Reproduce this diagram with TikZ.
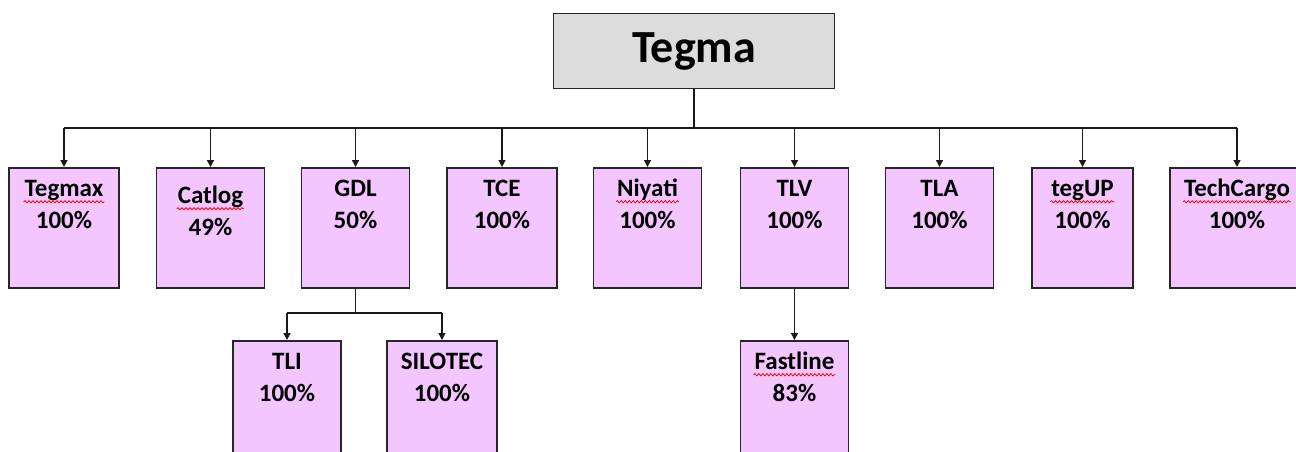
\documentclass[tikz,border=0pt]{standalone}
\usepackage{fontspec}
\setmainfont{Carlito}
\usetikzlibrary{arrows.meta, positioning, decorations.pathmorphing}
\definecolor{unitpink}{HTML}{F3C6FF}
\definecolor{headgrey}{HTML}{DCDCDC}
\newsavebox{\spellbox}
\newcommand{\spell}[1]{\sbox{\spellbox}{#1}\rlap{\tikz[overlay]\draw[red, line width=0.8pt, decorate, decoration={snake, segment length=4pt, amplitude=1.1pt}] (-1pt,-5pt) -- (\wd\spellbox+1pt,-5pt);}\usebox{\spellbox}}
\tikzset{head/.style={draw=black!85, line width=1.5pt, fill=headgrey, minimum width=281pt, minimum height=75pt, font=\bfseries\fontsize{46}{50}\selectfont}}
\tikzset{unit/.style={draw=black!85, line width=1.5pt, fill=unitpink, anchor=north, text width=#1, minimum width=#1, inner xsep=0pt, inner ysep=0pt, align=center, text height=29pt, text depth=91pt, font=\bfseries\fontsize{25}{32}\selectfont}, unit/.default=108pt}
\tikzset{trunk/.style={line width=2.6pt, black!90}}
\tikzset{bus/.style={line width=2pt, black!90}}
\tikzset{link/.style={line width=1.3pt, black!90}}
\tikzset{feed/.style={link, -{Triangle[width=7pt,length=7pt]}}}

\begin{document}
\begin{tikzpicture}[x=1pt, y=-1pt]
		\useasboundingbox (0,0) rectangle (1296,452);

		% Head
		\node[head] (tegma) at (694,51) {Tegma};

		% First row
		\node[unit=110pt] (tegmax) at (64,167) {\spell{Tegmax}\\100\%};
		\node[unit, text height=36pt, text depth=84pt] (catlog) at (210.5,167) {\spell{Catlog}\\49\%};
		\node[unit] (gdl) at (355.5,167) {GDL\\50\%};
		\node[unit=110pt] (tce) at (502,167) {TCE\\100\%};
		\node[unit] (niyati) at (647.5,167) {\spell{Niyati}\\100\%};
		\node[unit] (tlv) at (794.5,167) {TLV\\100\%};
		\node[unit] (tla) at (939.5,167) {TLA\\100\%};
		\node[unit=101pt] (tegup) at (1082.5,167) {\spell{tegUP}\\100\%};
		\node[unit=134pt] (techcargo) at (1237,167) {\spell{TechCargo}\\100\%};

		% Second row
		\node[unit] (tli) at (287,340) {TLI\\100\%};
		\node[unit=110pt] (silotec) at (442,340) {SILOTEC\\100\%};
		\node[unit] (fastline) at (794.5,340) {\spell{Fastline}\\83\%};

		% Connectors
		\coordinate (top) at (0,128);
		\coordinate (gdlsplit) at (0,313);
		\draw[trunk] (tegma.south) -- (tegma.south |- top);
		\draw[bus] (tegmax.north |- top) -- (techcargo.north |- top);
		\foreach \u in {tegmax, catlog, gdl, tce, niyati, tlv, tla, tegup, techcargo}
			\draw[feed] (\u.north |- top) -- (\u.north);

		\draw[link] (gdl.south) -- (gdl.south |- gdlsplit);
		\draw[link] (tli.north |- gdlsplit) -- (silotec.north |- gdlsplit);
		\draw[feed] (tli.north |- gdlsplit) -- (tli.north);
		\draw[feed] (silotec.north |- gdlsplit) -- (silotec.north);
		\draw[feed] (tlv.south) -- (fastline.north);
	\end{tikzpicture}
\end{document}
